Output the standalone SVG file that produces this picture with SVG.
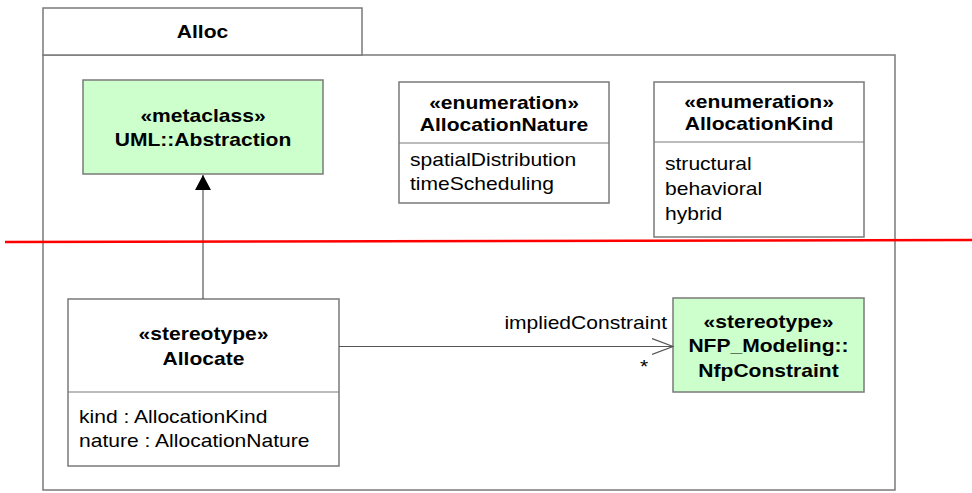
<svg xmlns="http://www.w3.org/2000/svg" width="972" height="493" viewBox="0 0 972 493">
<defs>
<style>
.frame{fill:#ffffff;stroke:#7a7a7a;stroke-width:1.5}
.green{fill:#ccffcc;stroke:#7a7a7a;stroke-width:1.5}
.sep{stroke:#7a7a7a;stroke-width:1.2}
.edge{stroke:#555555;stroke-width:1.2;fill:none}
text{font-family:"Liberation Sans",Arial,sans-serif;font-size:18px;fill:#000}
.b{font-weight:bold;text-anchor:middle}
.l{text-anchor:start}
.r{text-anchor:end}
</style>
<marker id="tri" markerWidth="16" markerHeight="22" refX="15" refY="8" orient="auto" markerUnits="userSpaceOnUse" viewBox="0 0 16 16">
<path d="M0,0 L15,8 L0,16 Z" fill="#000"/>
</marker>
<marker id="open" markerWidth="22" markerHeight="18" refX="21" refY="8" orient="auto" markerUnits="userSpaceOnUse" viewBox="0 0 22 16">
<path d="M0,0 L21,8 L0,16" fill="none" stroke="#555" stroke-width="1.2"/>
</marker>
</defs>
<rect width="972" height="493" fill="#ffffff"/>

<g id="package-Alloc">
<rect class="frame" x="43" y="55" width="852" height="435"/>
<rect class="frame" x="43" y="8" width="319" height="47"/>
<text class="b" transform="translate(202.5,38) scale(1.17,1)">Alloc</text>
</g>

<g id="node-Abstraction">
<rect class="green" x="83" y="80" width="240" height="94"/>
<text class="b" transform="translate(203,122) scale(1.17,1)">«metaclass»</text>
<text class="b" transform="translate(203,146) scale(1.17,1)">UML::Abstraction</text>
</g>

<g id="node-AllocationNature">
<rect class="frame" x="399" y="82" width="210" height="121"/>
<line class="sep" x1="399" y1="143" x2="609" y2="143"/>
<text class="b" transform="translate(504,109) scale(1.17,1)">«enumeration»</text>
<text class="b" transform="translate(504,131) scale(1.17,1)">AllocationNature</text>
<text class="l" transform="translate(410,166) scale(1.17,1)">spatialDistribution</text>
<text class="l" transform="translate(410,190) scale(1.17,1)">timeScheduling</text>
</g>

<g id="node-AllocationKind">
<rect class="frame" x="654" y="82" width="210" height="155"/>
<line class="sep" x1="654" y1="142" x2="864" y2="142"/>
<text class="b" transform="translate(759,108) scale(1.17,1)">«enumeration»</text>
<text class="b" transform="translate(759,130) scale(1.17,1)">AllocationKind</text>
<text class="l" transform="translate(665,170) scale(1.17,1)">structural</text>
<text class="l" transform="translate(665,195) scale(1.17,1)">behavioral</text>
<text class="l" transform="translate(665,220) scale(1.17,1)">hybrid</text>
</g>

<g id="node-Allocate">
<rect class="frame" x="68" y="299" width="271" height="167"/>
<line class="sep" x1="68" y1="392" x2="339" y2="392"/>
<text class="b" transform="translate(203.5,340) scale(1.17,1)">«stereotype»</text>
<text class="b" transform="translate(203.5,365) scale(1.17,1)">Allocate</text>
<text class="l" transform="translate(79,423) scale(1.17,1)">kind : AllocationKind</text>
<text class="l" transform="translate(79,447) scale(1.17,1)">nature : AllocationNature</text>
</g>

<g id="node-NfpConstraint">
<rect class="green" x="673" y="298" width="191" height="94"/>
<text class="b" transform="translate(768.5,328) scale(1.17,1)">«stereotype»</text>
<text class="b" transform="translate(768.5,352) scale(1.17,1)">NFP_Modeling::</text>
<text class="b" transform="translate(768.5,377) scale(1.17,1)">NfpConstraint</text>
</g>

<g id="connectors">
<line class="edge" x1="203" y1="299" x2="203" y2="175" marker-end="url(#tri)"/>
<line class="edge" x1="339" y1="346.5" x2="673" y2="346.5" marker-end="url(#open)"/>
<text class="r" transform="translate(667,329) scale(1.17,1)">impliedConstraint</text>
<text class="l" transform="translate(640,373) scale(1.17,1)">*</text>
</g>

<line id="red-line" x1="5" y1="242" x2="972" y2="240" stroke="#ff0000" stroke-width="2.5"/>
</svg>
